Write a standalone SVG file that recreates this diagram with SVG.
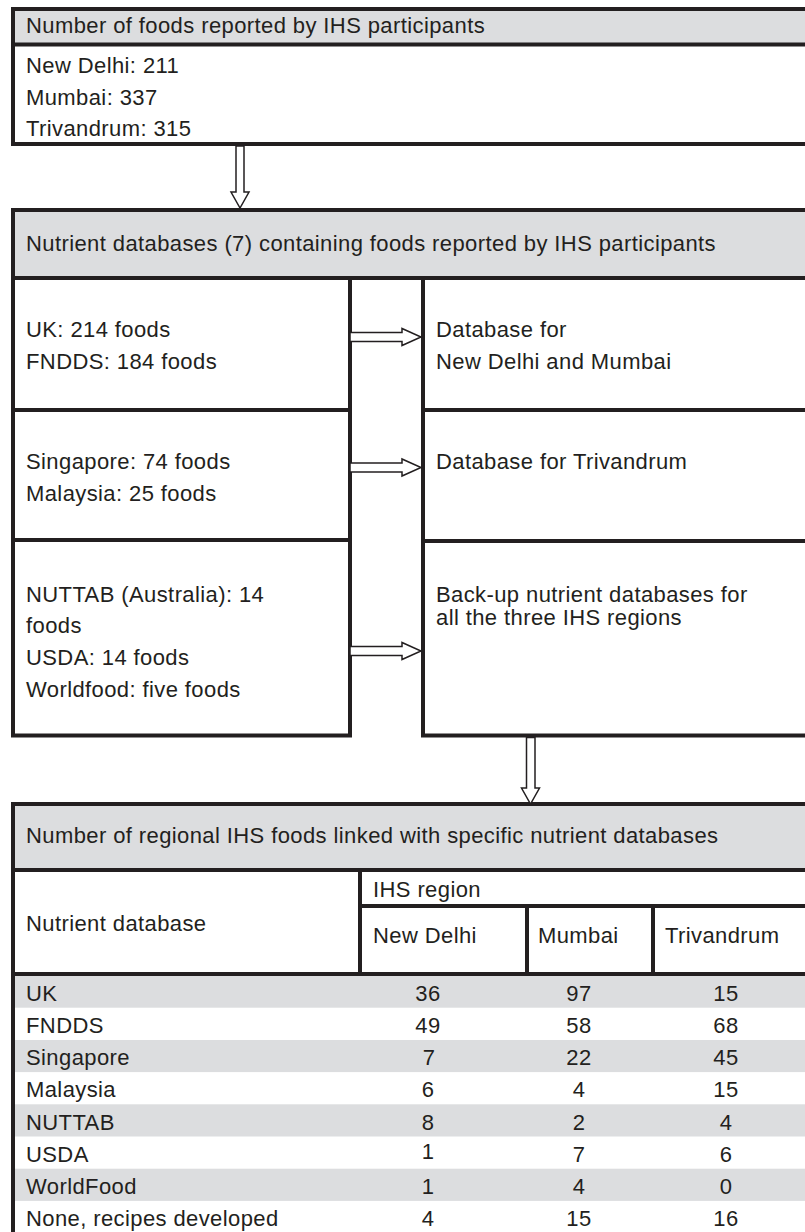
<svg xmlns="http://www.w3.org/2000/svg" width="805" height="1232" viewBox="0 0 805 1232">
<style>
  text { font-family: "Liberation Sans", Arial, sans-serif; font-size: 22px; letter-spacing: 0.4px; fill: #231f20; }
  .num { text-anchor: middle; }
  .box { fill: #ffffff; stroke: #231f20; stroke-width: 4; }
  .hdr { fill: #dcdddf; stroke: #231f20; stroke-width: 4; }
  .ln { stroke: #231f20; stroke-width: 4; fill: none; }
  .band { fill: #dcdddf; stroke: none; }
  .arrow { fill: #ffffff; stroke: #231f20; stroke-width: 1.5; stroke-linejoin: miter; }
</style>
<rect width="805" height="1232" fill="#ffffff"/>

<g id="foods-reported">
  <rect class="box" x="13" y="9" width="800" height="135"/>
  <rect class="hdr" x="13" y="9" width="800" height="35.5"/>
  <text x="26" y="33">Number of foods reported by IHS participants</text>
  <text x="26" y="72.5">New Delhi: 211</text>
  <text x="26" y="104.5">Mumbai: 337</text>
  <text x="26" y="136">Trivandrum: 315</text>
</g>

<g id="nutrient-databases-header">
  <rect class="hdr" x="13" y="210" width="800" height="68"/>
  <text x="26" y="251">Nutrient databases (7) containing foods reported by IHS participants</text>
</g>

<g id="uk-fndds">
  <rect class="box" x="13" y="278" width="337" height="132"/>
  <text x="26" y="337">UK: 214 foods</text>
  <text x="26" y="369">FNDDS: 184 foods</text>
</g>
<g id="singapore-malaysia">
  <rect class="box" x="13" y="410" width="337" height="130"/>
  <text x="26" y="469">Singapore: 74 foods</text>
  <text x="26" y="501">Malaysia: 25 foods</text>
</g>
<g id="nuttab-usda-worldfood">
  <rect class="box" x="13" y="540" width="337" height="195.5"/>
  <text x="26" y="602">NUTTAB (Australia): 14</text>
  <text x="26" y="633">foods</text>
  <text x="26" y="665">USDA: 14 foods</text>
  <text x="26" y="697">Worldfood: five foods</text>
</g>

<g id="db-delhi-mumbai">
  <rect class="box" x="423" y="278" width="390" height="132"/>
  <text x="436" y="337">Database for</text>
  <text x="436" y="369">New Delhi and Mumbai</text>
</g>
<g id="db-trivandrum">
  <rect class="box" x="423" y="410" width="390" height="131"/>
  <text x="436" y="469">Database for Trivandrum</text>
</g>
<g id="db-backup">
  <rect class="box" x="423" y="541" width="390" height="194.5"/>
  <text x="436" y="602">Back-up nutrient databases for</text>
  <text x="436" y="625">all the three IHS regions</text>
</g>

<g id="linked-table">
  <rect class="hdr" x="13" y="804" width="800" height="66"/>
  <text x="26" y="843">Number of regional IHS foods linked with specific nutrient databases</text>
  <rect class="band" x="15" y="976" width="790" height="31.7"/>
  <rect class="band" x="15" y="1040" width="790" height="32.1"/>
  <rect class="band" x="15" y="1104.3" width="790" height="32.2"/>
  <rect class="band" x="15" y="1168.7" width="790" height="32.2"/>
  <line class="ln" x1="13" y1="870" x2="13" y2="1240"/>
  <line class="ln" x1="360" y1="870" x2="360" y2="974"/>
  <line class="ln" x1="360" y1="906" x2="813" y2="906"/>
  <line class="ln" x1="527" y1="906" x2="527" y2="974"/>
  <line class="ln" x1="653" y1="906" x2="653" y2="974"/>
  <line class="ln" x1="11" y1="974" x2="813" y2="974"/>
  <text x="26" y="931">Nutrient database</text>
  <text x="373" y="897">IHS region</text>
  <text x="373" y="943">New Delhi</text>
  <text x="538" y="943">Mumbai</text>
  <text x="665" y="943">Trivandrum</text>

  <text x="26" y="1001">UK</text>
  <text class="num" x="428" y="1001">36</text><text class="num" x="579" y="1001">97</text><text class="num" x="726" y="1001">15</text>
  <text x="26" y="1033.2">FNDDS</text>
  <text class="num" x="428" y="1033.2">49</text><text class="num" x="579" y="1033.2">58</text><text class="num" x="726" y="1033.2">68</text>
  <text x="26" y="1065">Singapore</text>
  <text class="num" x="429" y="1065">7</text><text class="num" x="579" y="1065">22</text><text class="num" x="726" y="1065">45</text>
  <text x="26" y="1097">Malaysia</text>
  <text class="num" x="428" y="1097">6</text><text class="num" x="579" y="1097">4</text><text class="num" x="726" y="1097">15</text>
  <text x="26" y="1129.5">NUTTAB</text>
  <text class="num" x="428" y="1129.5">8</text><text class="num" x="579" y="1129.5">2</text><text class="num" x="726" y="1129.5">4</text>
  <text x="26" y="1162">USDA</text>
  <text class="num" x="428" y="1158.5">1</text><text class="num" x="579" y="1162">7</text><text class="num" x="726" y="1162">6</text>
  <text x="26" y="1194.2">WorldFood</text>
  <text class="num" x="428" y="1194.2">1</text><text class="num" x="579" y="1194.2">4</text><text class="num" x="726" y="1194.2">0</text>
  <text x="26" y="1225.5">None, recipes developed</text>
  <text class="num" x="428" y="1225.5">4</text><text class="num" x="579" y="1225.5">15</text><text class="num" x="726" y="1225.5">16</text>
</g>

<g id="connectors">
  <polygon class="arrow" points="236,146 244,146 244,192 249,192 240,208 231,192 236,192"/>
  <polygon class="arrow" points="350,332.5 402,332.5 402,328.5 421,337 402,345.5 402,341.5 350,341.5"/>
  <polygon class="arrow" points="350,463 402,463 402,459 421,467.5 402,476 402,472 350,472"/>
  <polygon class="arrow" points="350,646.5 402,646.5 402,642.5 421,651 402,659.5 402,655.5 350,655.5"/>
  <polygon class="arrow" points="526.5,737.5 535,737.5 535,788 539.5,788 530.5,804 521.5,788 526.5,788"/>
</g>
</svg>
